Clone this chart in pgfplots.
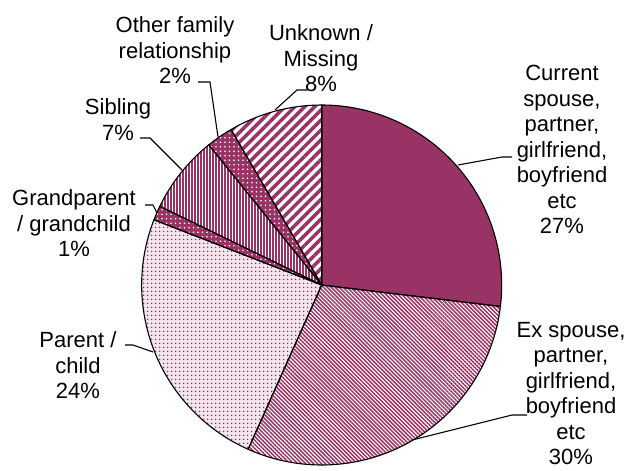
\documentclass[border=0pt]{standalone}
\usepackage{pgfplots}
\pgfplotsset{compat=1.18}
\usepackage{pgfplotstable}
\usetikzlibrary{patterns.meta}
\usepackage{fontspec}
\setmainfont{Liberation Sans}

\definecolor{mag}{RGB}{153,51,102}

% shares in percent, clockwise from 12 o'clock
\pgfplotstableread{
name value
current 26.9
ex 29.8
parent 24.2
grand 1.3
sibling 7.0
other 2.4
unknown 8.4
}\piedata

% cumulative start/end angles of each slice
\def\cum{90}
\pgfplotsforeachungrouped \i in {0,...,6}{%
  \pgfplotstablegetelem{\i}{value}\of\piedata
  \pgfmathsetmacro\nxt{\cum-3.6*\pgfplotsretval}%
  \expandafter\xdef\csname sa\i\endcsname{\cum}%
  \expandafter\xdef\csname ea\i\endcsname{\nxt}%
  \xdef\cum{\nxt}%
}

\newcommand\pieslice[2]{%
  \path[#2] (axis cs:321.7,285) -- ++(\csname sa#1\endcsname:180pt)
    arc[start angle=\csname sa#1\endcsname, end angle=\csname ea#1\endcsname, radius=180pt] -- cycle;}

\begin{document}
\begin{tikzpicture}
\begin{axis}[
  width=632pt, height=470pt, scale only axis,
  xmin=0, xmax=632, ymin=0, ymax=470, y dir=reverse,
  hide axis, clip=false,
]
\path (axis cs:0,0) rectangle (axis cs:632,470);
% fills
\pieslice{0}{fill=mag}
\pieslice{1}{fill=white}
\pieslice{1}{pattern={Lines[angle=-45,distance=2.8pt,line width=1.5pt]}, pattern color=mag}
\pieslice{2}{fill=mag!12}
\pieslice{2}{pattern={Dots[radius=1.05pt,distance=4pt]}, pattern color=mag}
\pieslice{3}{fill=mag}
\pieslice{3}{pattern={Dots[radius=0.9pt,distance=4.5pt]}, pattern color=white}
\pieslice{4}{fill=white}
\pieslice{4}{pattern={Lines[angle=90,distance=3pt,line width=1.1pt]}, pattern color=mag}
\pieslice{5}{fill=mag}
\pieslice{5}{pattern={Dots[radius=0.9pt,distance=4.5pt]}, pattern color=white}
\pieslice{6}{fill=white}
\pieslice{6}{pattern={Lines[angle=45,distance=7pt,line width=3.5pt]}, pattern color=mag}
% outlines
\pieslice{0}{draw=black, line width=1.1pt, line join=round}
\pieslice{1}{draw=black, line width=1.1pt, line join=round}
\pieslice{2}{draw=black, line width=1.1pt, line join=round}
\pieslice{3}{draw=black, line width=1.1pt, line join=round}
\pieslice{4}{draw=black, line width=1.1pt, line join=round}
\pieslice{5}{draw=black, line width=1.1pt, line join=round}
\pieslice{6}{draw=black, line width=1.1pt, line join=round}

% leader lines
\draw[line width=1.1pt] (axis cs:307,90) -- (axis cs:297,90) -- (axis cs:275,110);
\draw[line width=1.1pt] (axis cs:198,82) -- (axis cs:210,82) -- (axis cs:218,137);
\draw[line width=1.1pt] (axis cs:140,138) -- (axis cs:150,138) -- (axis cs:182,170);
\draw[line width=1.1pt] (axis cs:145,205) -- (axis cs:153,205) -- (axis cs:157,213);
\draw[line width=1.1pt] (axis cs:125,345) -- (axis cs:133,345) -- (axis cs:153,352);
\draw[line width=1.1pt] (axis cs:512,157) -- (axis cs:502,157) -- (axis cs:458,165);
\draw[line width=1.1pt] (axis cs:527,415) -- (axis cs:512,415) -- (axis cs:412,440);

% labels
\tikzset{lbl/.style={align=center, inner sep=0pt, font=\fontsize{22}{25.5}\selectfont}}
\node[lbl] at (axis cs:321,58.5) {Unknown /\\Missing\\8\%};
\node[lbl] at (axis cs:175,50.5) {Other family\\relationship\\2\%};
\node[lbl] at (axis cs:118,119.75) {Sibling\\7\%};
\node[lbl] at (axis cs:74,223.5) {Grandparent\\/ grandchild\\1\%};
\node[lbl] at (axis cs:78,365.5) {Parent /\\child\\24\%};
\node[lbl] at (axis cs:562,149.5) {Current\\spouse,\\partner,\\girlfriend,\\boyfriend\\etc\\27\%};
\node[lbl] at (axis cs:571,393.75) {Ex spouse,\\partner,\\girlfriend,\\boyfriend\\etc\\30\%};
\end{axis}
\end{tikzpicture}
\end{document}
